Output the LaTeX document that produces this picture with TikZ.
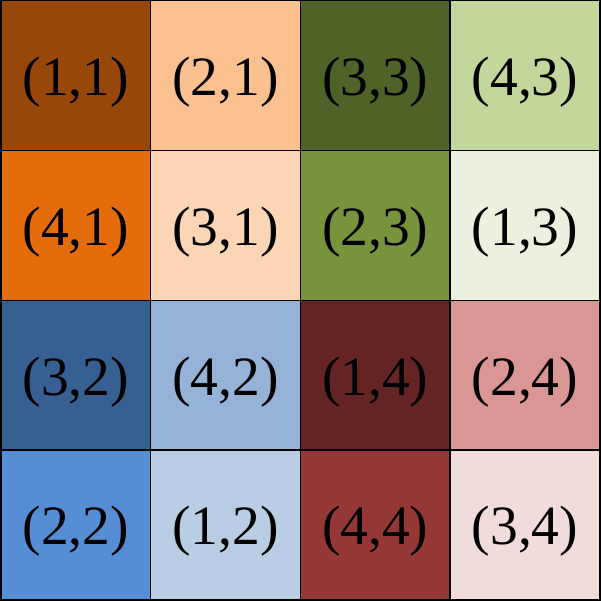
\documentclass[tikz,border=0pt]{standalone}
\usepackage{fontspec}
\setmainfont{Liberation Serif}
\definecolor{c11}{HTML}{974709}
\definecolor{c21}{HTML}{FAC090}
\definecolor{c33}{HTML}{4F6228}
\definecolor{c43}{HTML}{C3D69B}
\definecolor{c41}{HTML}{E46C0A}
\definecolor{c31}{HTML}{FCD5B5}
\definecolor{c23}{HTML}{77933C}
\definecolor{c13}{HTML}{EBF1DE}
\definecolor{c32}{HTML}{376092}
\definecolor{c42}{HTML}{95B3D7}
\definecolor{c14}{HTML}{632423}
\definecolor{c24}{HTML}{D99694}
\definecolor{c22}{HTML}{558ED5}
\definecolor{c12}{HTML}{B9CDE5}
\definecolor{c44}{HTML}{953735}
\definecolor{c34}{HTML}{F2DCDB}
\tikzset{
  cell/.style={draw=black, line width=1.5pt, minimum width=150pt, minimum height=150pt, inner sep=0pt, outer sep=0pt, anchor=north west},
  celltext/.style={font=\fontsize{55.5}{60}\selectfont, inner sep=0pt, yshift=-6.5pt}
}
\begin{document}
\begin{tikzpicture}[x=1pt,y=1pt]
\useasboundingbox (0,0) rectangle (601,600);
\node[cell, fill=c11, label={[celltext]center:(1,1)}] (n11) at (0.75,599.25) {};
\node[cell, fill=c21, label={[celltext]center:(2,1)}] (n21) at (150.5,599.25) {};
\node[cell, fill=c33, label={[celltext]center:(3,3)}] (n33) at (300.25,599.25) {};
\node[cell, fill=c43, label={[celltext]center:(4,3)}] (n43) at (450,599.25) {};
\node[cell, fill=c41, label={[celltext]center:(4,1)}] (n41) at (0.75,449.5) {};
\node[cell, fill=c31, label={[celltext]center:(3,1)}] (n31) at (150.5,449.5) {};
\node[cell, fill=c23, label={[celltext]center:(2,3)}] (n23) at (300.25,449.5) {};
\node[cell, fill=c13, label={[celltext]center:(1,3)}] (n13) at (450,449.5) {};
\node[cell, fill=c32, label={[celltext]center:(3,2)}] (n32) at (0.75,299.75) {};
\node[cell, fill=c42, label={[celltext]center:(4,2)}] (n42) at (150.5,299.75) {};
\node[cell, fill=c14, label={[celltext]center:(1,4)}] (n14) at (300.25,299.75) {};
\node[cell, fill=c24, label={[celltext]center:(2,4)}] (n24) at (450,299.75) {};
\node[cell, fill=c22, label={[celltext]center:(2,2)}] (n22) at (0.75,150) {};
\node[cell, fill=c12, label={[celltext]center:(1,2)}] (n12) at (150.5,150) {};
\node[cell, fill=c44, label={[celltext]center:(4,4)}] (n44) at (300.25,150) {};
\node[cell, fill=c34, label={[celltext]center:(3,4)}] (n34) at (450,150) {};
\end{tikzpicture}
\end{document}
